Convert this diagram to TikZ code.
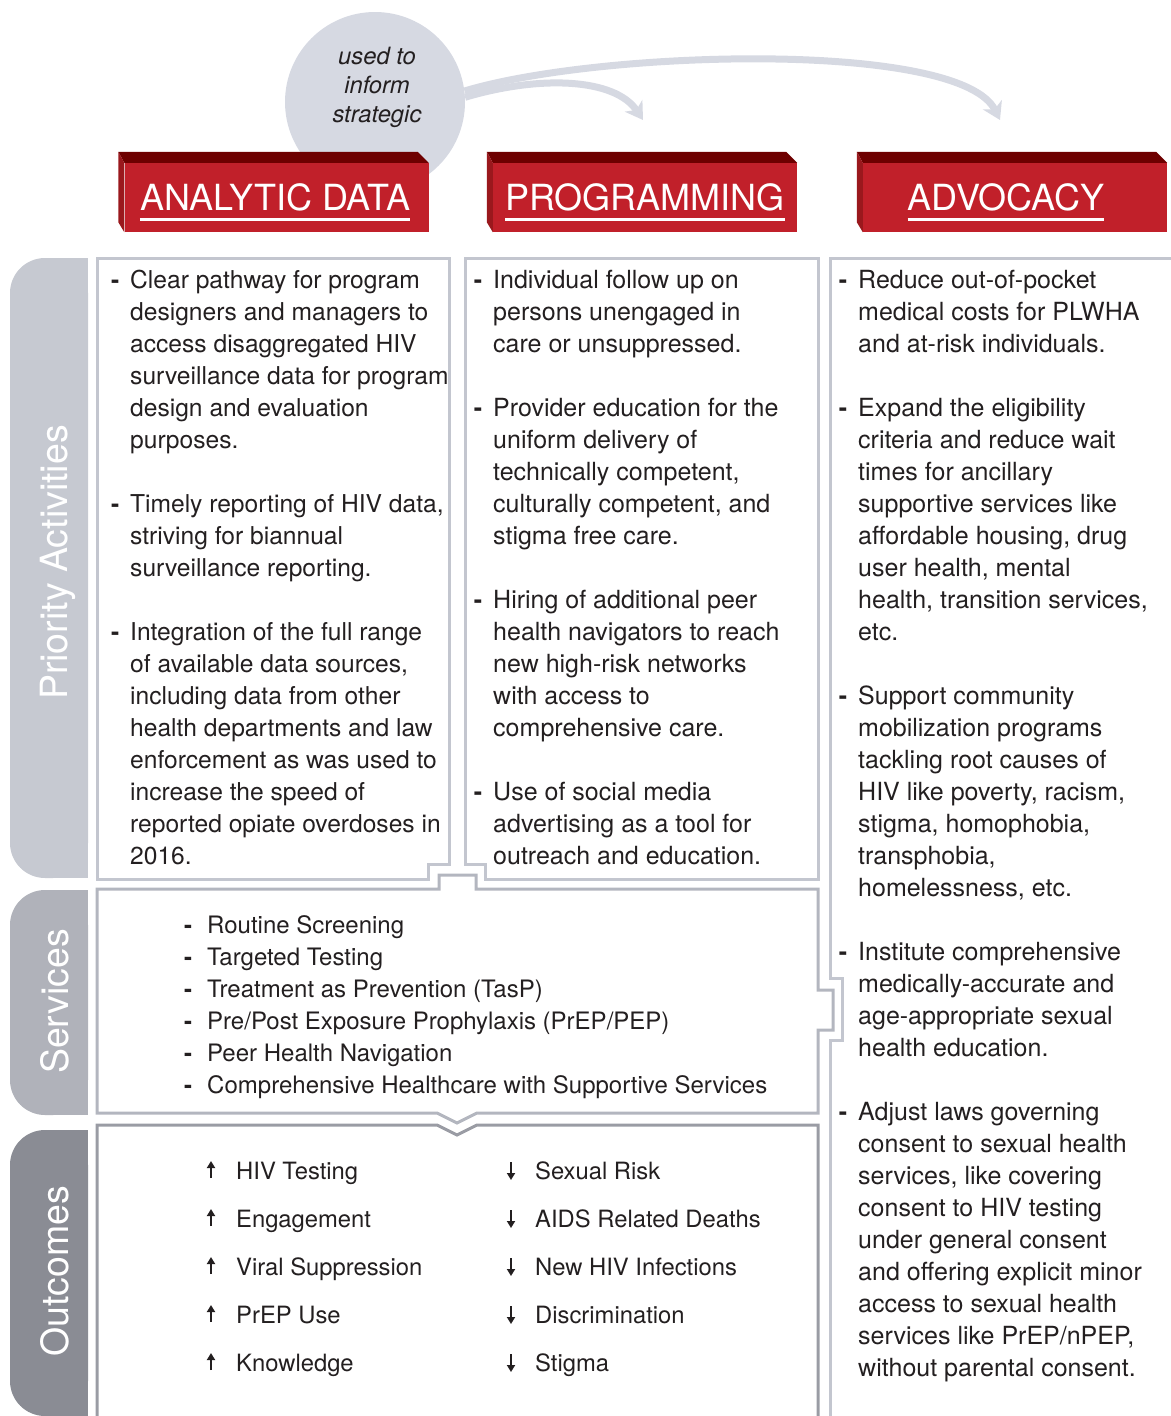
\documentclass[tikz,border=0pt]{standalone}
\usepackage{fontspec}
\setmainfont{TeX Gyre Heros}
\usetikzlibrary{arrows.meta}

\definecolor{txt}{HTML}{231F20}
\definecolor{flowgray}{HTML}{D6D9E2}
\definecolor{hdrred}{HTML}{C1202A}
\definecolor{hdrtop}{HTML}{6E0000}
\definecolor{hdrside}{HTML}{9A181D}
\definecolor{tabone}{HTML}{C6C9D1}
\definecolor{tabtwo}{HTML}{B0B2BA}
\definecolor{tabthree}{HTML}{8A8C94}
\definecolor{framelight}{HTML}{C3C6CF}
\definecolor{framemid}{HTML}{B3B6BF}
\definecolor{framedark}{HTML}{9A9CA4}

\newcommand{\dashitem}{\leavevmode\llap{\textbf{-}\hspace{11pt}}}
\newcommand{\servdash}{\leavevmode\llap{\textbf{-}\hspace{15pt}}}
\newcommand{\colpar}[2][25]{\parbox[t]{400pt}{\fontsize{#1}{32}\selectfont\raggedright #2}}

\tikzset{
  tablabel/.style={rotate=90, anchor=base, text=white, inner sep=0pt, font=\fontsize{37.5}{40}\selectfont},
  frame/.style={draw=#1, line width=3pt, line join=miter},
  hdrface/.style={fill=hdrred, minimum width=304pt, minimum height=69pt, inner sep=0pt},
  hdrlabel/.style={text=white, inner sep=0pt, font=\fontsize{36}{40}\selectfont},
  uline/.style={draw=white, line width=3pt},
  flow/.style={draw=flowgray, line width=7pt, -{Stealth[length=17pt,width=21pt,inset=5pt]}},
  coltext/.style={anchor=base west, inner sep=0pt, text=txt},
  updown/.style={draw=txt, line width=2pt, -{Triangle[length=7pt,width=8pt]}},
}

\begin{document}
\begin{tikzpicture}[x=1pt,y=-1pt]
\useasboundingbox (0,0) rectangle (1170,1416);

% bubble and flow arrows
\node[circle, fill=flowgray, minimum size=180pt, inner sep=0pt] (bubble) at (375,102) {};
\node[align=center, text=txt, inner sep=0pt, font=\itshape\fontsize{23.8}{29}\selectfont] (usedto) at (377,87) {used to\\inform\\strategic};
\coordinate (progin) at (643,120);
\coordinate (advoin) at (1000,120);
\draw[flow] (bubble.3) .. controls (540,75) and (615,78) .. (progin);
\draw[flow] (bubble.7) .. controls (600,50) and (960,40) .. (advoin);

% header blocks
\foreach \n/\fx/\tx/\t in {adata/276.5/275/ANALYTIC DATA, prog/645/645/PROGRAMMING, advo/1015/1006/ADVOCACY}{
  \node[hdrface] (\n) at (\fx,197.5) {};
  \fill[hdrtop] ([xshift=-6pt,yshift=11pt]\n.north west) -- ([xshift=-11pt,yshift=11pt]\n.north east)
    -- (\n.north east) -- (\n.north west) -- cycle;
  \fill[hdrside] ([xshift=-6pt,yshift=11pt]\n.north west) -- (\n.north west) -- (\n.south west)
    -- ([xshift=-6pt,yshift=10pt]\n.south west) -- cycle;
  \node[hdrlabel] (\n l) at (\tx,197.5) {\t};
  \draw[uline] ([yshift=-8pt]\n l.south west) -- ([yshift=-8pt]\n l.south east);
}

% side tabs
\fill[tabone, rounded corners=35pt] (10,258) rectangle (88,878);
\fill[tabone] (50,258) rectangle (88,878);
\fill[tabtwo, rounded corners=35pt] (10,890) rectangle (88,1115);
\fill[tabtwo] (50,890) rectangle (88,1115);
\fill[tabthree, rounded corners=35pt] (10,1130) rectangle (88,1416);
\fill[tabthree] (50,1130) rectangle (88,1416);
\node[tablabel] (priolab) at (67,562.5) {Priority Activities};
\node[tablabel] (servlab) at (68,1001.5) {Services};
\node[tablabel] (outlab) at (68,1271.5) {Outcomes};

% frames
\draw[frame=framelight] (97,258) -- (449,258) -- (449,864) -- (428,864) -- (428,879) -- (97,879) -- cycle;
\draw[frame=framelight] (465,258) -- (818,258) -- (818,879) -- (485,879) -- (485,864) -- (465,864) -- cycle;
\draw[frame=framelight] (1180,258) -- (830,258) -- (830,978) -- (842,978) -- (842,1040) -- (830,1040) -- (830,1425);
\draw[frame=framemid] (97,889) -- (439,889) -- (439,875) -- (476,875) -- (476,889) -- (818,889)
  -- (818,990) -- (833,990) -- (833,1030) -- (818,1030) -- (818,1113)
  -- (477,1113) -- (457,1123) -- (437,1113) -- (97,1113) -- cycle;
\draw[frame=framedark] (97,1425) -- (97,1125) -- (437,1125) -- (457,1135) -- (477,1125) -- (818,1125) -- (818,1425);

% priority activities
\node[coltext] (anatext) at (130,288) {\colpar[24.6]{%
\dashitem Clear pathway for program\\
designers and managers to\\
access disaggregated HIV\\
surveillance data for program\\
design and evaluation\\
purposes.\\[32pt]
\dashitem Timely reporting of HIV data,\\
striving for biannual\\
surveillance reporting.\\[32pt]
\dashitem Integration of the full range\\
of available data sources,\\
including data from other\\
health departments and law\\
enforcement as was used to\\
increase the speed of\\
reported opiate overdoses in\\
2016.}};
\node[coltext] (progtext) at (493,288) {\colpar{%
\dashitem Individual follow up on\\
persons unengaged in\\
care or unsuppressed.\\[32pt]
\dashitem Provider education for the\\
uniform delivery of\\
technically competent,\\
culturally competent, and\\
stigma free care.\\[32pt]
\dashitem Hiring of additional peer\\
health navigators to reach\\
new high-risk networks\\
with access to\\
comprehensive care.\\[32pt]
\dashitem Use of social media\\
advertising as a tool for\\
outreach and education.}};
\node[coltext] (advotext) at (858,288) {\colpar{%
\dashitem Reduce out-of-pocket\\
medical costs for PLWHA\\
and at-risk individuals.\\[32pt]
\dashitem Expand the eligibility\\
criteria and reduce wait\\
times for ancillary\\
supportive services like\\
affordable housing, drug\\
user health, mental\\
health, transition services,\\
etc.\\[32pt]
\dashitem Support community\\
mobilization programs\\
tackling root causes of\\
HIV like poverty, racism,\\
stigma, homophobia,\\
transphobia,\\
homelessness, etc.\\[32pt]
\dashitem Institute comprehensive\\
medically-accurate and\\
age-appropriate sexual\\
health education.\\[32pt]
\dashitem Adjust laws governing\\
consent to sexual health\\
services, like covering\\
consent to HIV testing\\
under general consent\\
and offering explicit minor\\
access to sexual health\\
services like PrEP/nPEP,\\
without parental consent.}};

% services
\node[coltext] (servtext) at (207,933) {\parbox[t]{700pt}{\fontsize{24}{32}\selectfont\raggedright
\servdash Routine Screening\\
\servdash Targeted Testing\\
\servdash Treatment as Prevention (TasP)\\
\servdash Pre/Post Exposure Prophylaxis (PrEP/PEP)\\
\servdash Peer Health Navigation\\
\servdash Comprehensive Healthcare with Supportive Services}};

% outcomes
\node[coltext] (uptext) at (236,1179) {\parbox[t]{300pt}{\fontsize{23.8}{48}\selectfont\raggedright
HIV Testing\\ Engagement\\ Viral Suppression\\ PrEP Use\\ Knowledge}};
\node[coltext] (downtext) at (535,1179) {\parbox[t]{300pt}{\fontsize{23.8}{48}\selectfont\raggedright
Sexual Risk\\ AIDS Related Deaths\\ New HIV Infections\\ Discrimination\\ Stigma}};
\foreach \yy in {1170,1218,1266,1314,1362}{
  \draw[updown] (211,\yy+8) -- (211,\yy-9);
  \draw[updown] (511,\yy-8) -- (511,\yy+10);
}
\end{tikzpicture}
\end{document}
